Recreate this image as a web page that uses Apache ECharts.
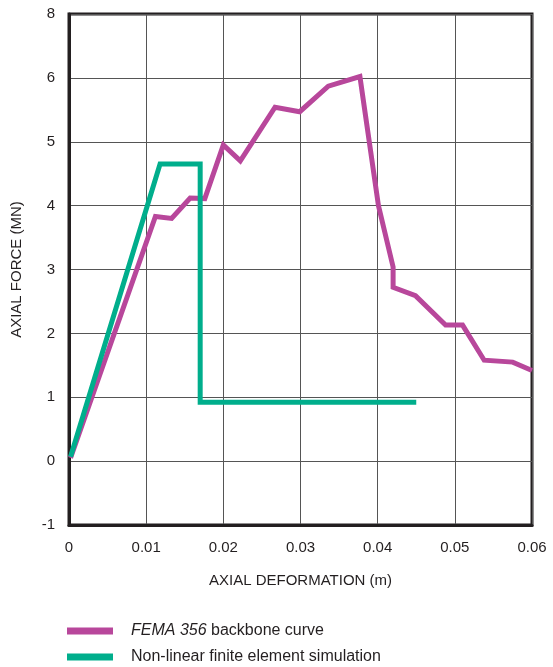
<!DOCTYPE html>
<html>
<head>
<meta charset="utf-8">
<script src="https://cdn.jsdelivr.net/npm/echarts@6/dist/echarts.min.js"></script>
<style>
html,body{margin:0;padding:0;background:#fff;}
#chart{width:553px;height:667px;}
</style>
</head>
<body>
<div id="chart"></div>
<script>
// Data
const femaX = [0.0002, 0.0112, 0.0133, 0.0157, 0.0176, 0.0200, 0.0222, 0.0267, 0.0299, 0.0336, 0.0377, 0.0401, 0.0420, 0.0420, 0.0449, 0.0488, 0.0510, 0.0538, 0.0575, 0.0600];
const femaY = [0.05, 3.83, 3.80, 4.12, 4.11, 4.95, 4.70, 5.54, 5.47, 5.87, 6.02, 4.00, 3.04, 2.72, 2.59, 2.13, 2.13, 1.58, 1.55, 1.42];
const simX = [0.0002, 0.0118, 0.0170, 0.0170, 0.0450];
const simY = [0.07, 4.65, 4.65, 0.92, 0.92];

const xTickLabels = ['0', '0.01', '0.02', '0.03', '0.04', '0.05', '0.06'];
const yTickValues = [-1, 0, 1, 2, 3, 4, 5, 6, 7];
const yTickLabels = ['-1', '0', '1', '2', '3', '4', '5', '6', '8'];

const seriesNames = ['FEMA 356 backbone curve', 'Non-linear finite element simulation'];
const xAxisTitle = 'AXIAL DEFORMATION (m)';
const yAxisTitle = 'AXIAL FORCE (MN)';

const colMagenta = '#b8479b';
const colGreen = '#00ae8c';
const textCol = '#231f20';
const fontFam = '"Liberation Sans", Arial, Helvetica, sans-serif';

function pairs(xs, ys) { return xs.map((x, i) => [x, ys[i]]); }

const legendText = {
  color: textCol, fontSize: 16, fontFamily: fontFam, padding: [0, 0, 0, 13],
  rich: {
    it: {fontStyle: 'italic', fontSize: 16, color: textCol, fontFamily: fontFam},
    n: {fontSize: 16, color: textCol, fontFamily: fontFam}
  }
};

const chart = echarts.init(document.getElementById('chart'), null, {renderer: 'canvas'});
chart.setOption({
  animation: false,
  backgroundColor: '#fff',
  textStyle: {fontFamily: fontFam},
  grid: {
    left: 69, right: 21, top: 14, bottom: 142,
    show: true, borderColor: textCol, borderWidth: 3, backgroundColor: 'transparent'
  },
  legend: [
    {
      left: 67, top: 623, padding: 0,
      itemWidth: 46, itemHeight: 7,
      selectedMode: false,
      data: [{name: seriesNames[0], icon: 'rect'}],
      formatter: function () { return '{it|FEMA 356} {n|backbone curve}'; },
      textStyle: legendText
    },
    {
      left: 67, top: 649, padding: 0,
      itemWidth: 46, itemHeight: 7,
      selectedMode: false,
      data: [{name: seriesNames[1], icon: 'rect'}],
      formatter: function (name) { return '{n|' + name + '}'; },
      textStyle: legendText
    }
  ],
  xAxis: {
    type: 'value',
    min: 0, max: 0.06, interval: 0.01,
    name: xAxisTitle,
    nameLocation: 'middle',
    nameGap: 48,
    nameTextStyle: {color: textCol, fontSize: 15, fontFamily: fontFam},
    axisLine: {show: true, onZero: false, lineStyle: {color: textCol, width: 3}},
    axisTick: {show: false},
    axisLabel: {
      color: textCol, fontSize: 15, margin: 15, fontFamily: fontFam,
      formatter: function (v) { return xTickLabels[Math.round(v / 0.01)]; }
    },
    splitLine: {show: true, lineStyle: {color: '#555', width: 1}}
  },
  yAxis: {
    type: 'value',
    min: -1, max: 7, interval: 1,
    name: yAxisTitle,
    nameLocation: 'middle',
    nameGap: 45,
    nameRotate: 90,
    nameTextStyle: {color: textCol, fontSize: 15, fontFamily: fontFam},
    axisLine: {show: true, onZero: false, lineStyle: {color: textCol, width: 3}},
    axisTick: {show: false},
    axisLabel: {
      color: textCol, fontSize: 15, margin: 14, fontFamily: fontFam,
      formatter: function (v) {
        const i = yTickValues.indexOf(Math.round(v));
        return i >= 0 ? yTickLabels[i] : '';
      }
    },
    splitLine: {show: true, lineStyle: {color: '#555', width: 1}}
  },
  series: [
    {
      name: seriesNames[0],
      type: 'line',
      data: pairs(femaX, femaY),
      showSymbol: false,
      symbol: 'none',
      color: colMagenta,
      lineStyle: {color: colMagenta, width: 5, cap: 'butt', join: 'miter'},
      z: 3
    },
    {
      name: seriesNames[1],
      type: 'line',
      data: pairs(simX, simY),
      showSymbol: false,
      symbol: 'none',
      color: colGreen,
      lineStyle: {color: colGreen, width: 5, cap: 'butt', join: 'miter'},
      z: 4
    }
  ]
});
</script>
</body>
</html>
